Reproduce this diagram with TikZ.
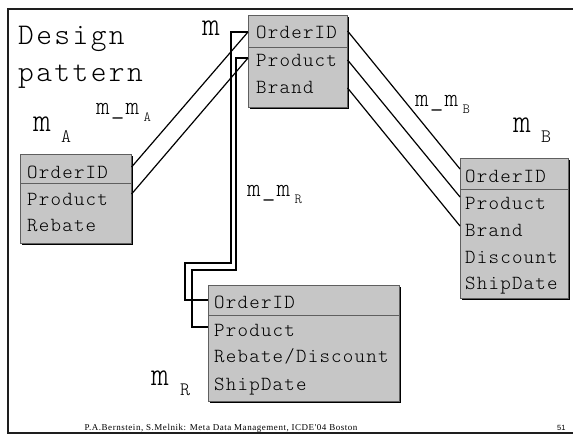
\documentclass[tikz,border=0pt]{standalone}
\usepackage{fontspec}
\setmainfont{Liberation Serif}
\newfontfamily\footfont{Liberation Serif}
\newfontfamily\numfont{Liberation Sans}
\newfontfamily\boxmono{lmmonolt10-regular.otf}
\usetikzlibrary{calc,shadows}

\definecolor{boxgray}{RGB}{198,198,198}
\definecolor{edgegray}{RGB}{95,95,95}
\definecolor{framegray}{RGB}{30,30,30}

% light monospaced lettering with a little extra tracking
\newcommand\monofont[2]{\fontsize{#1}{#1}\boxmono\addfontfeature{LetterSpace=#2}}

\tikzset{
  table/.style={draw=edgegray, line width=0.6pt, fill=boxgray, inner sep=0pt,
    anchor=north west,
    drop shadow={shadow xshift=1.3pt, shadow yshift=-1.3pt, opacity=1, fill=black}},
  divider/.style={draw=edgegray, line width=0.7pt},
  field/.style={anchor=base west, inner sep=0pt, font=\monofont{20}{6}},
  title/.style={anchor=base west, inner sep=0pt, font=\monofont{30}{8}},
  mapname/.style={anchor=base west, inner sep=0pt, font=\monofont{34}{0}},
  mapsub/.style={anchor=base west, inner sep=0pt, font=\monofont{19}{0}},
  linkname/.style={anchor=base west, inner sep=0pt, font=\monofont{26}{4}},
  linksub/.style={anchor=base west, inner sep=0pt, font=\monofont{14}{0}},
  link/.style={draw=black, line width=1.2pt},
  frame/.style={draw=framegray, line width=2pt}
}

\begin{document}
\begin{tikzpicture}[x=1pt, y=-1pt]
\useasboundingbox (0,0) rectangle (573,435);

% slide frame (right side runs off the page)
\draw[frame] (580,9) -- (8,9) -- (8,433) -- (580,433);

% ---- schema tables ----
\node[table, minimum width=99pt, minimum height=92pt] (M) at (248,15) {};
\node[table, minimum width=111pt, minimum height=89pt] (A) at (20,154) {};
\node[table, minimum width=108pt, minimum height=140pt] (B) at (460,158) {};
\node[table, minimum width=191pt, minimum height=116pt] (R) at (208,285) {};

% key field separators
\draw[divider] ($(M.north west)+(0,32)$) -- ($(M.north east)+(0,32)$);
\draw[divider] ($(A.north west)+(0,29)$) -- ($(A.north east)+(0,29)$);
\draw[divider] ($(B.north west)+(0,31)$) -- ($(B.north east)+(0,31)$);
\draw[divider] ($(R.north west)+(0,30)$) -- ($(R.north east)+(0,30)$);

% fields of m
\node[field] (m1) at (256,39) {OrderID};
\node[field] (m2) at (256,67) {Product};
\node[field] (m3) at (256,94) {Brand};

% fields of m_A
\node[field] (a1) at (27,179) {OrderID};
\node[field] (a2) at (27,206) {Product};
\node[field] (a3) at (27,232) {Rebate};

% fields of m_B
\node[field] (b1) at (465,183) {OrderID};
\node[field] (b2) at (465,210) {Product};
\node[field] (b3) at (465,237) {Brand};
\node[field] (b4) at (465,264) {Discount};
\node[field] (b5) at (465,290) {ShipDate};

% fields of m_R
\node[field] (r1) at (214,309) {OrderID};
\node[field] (r2) at (214,337) {Product};
\node[field] (r3) at (214,363) {Rebate/Discount};
\node[field] (r4) at (214,391) {ShipDate};

% ---- headings and mapping names ----
\node[title] (t1) at (18,45) {Design};
\node[title] (t2) at (18,82) {pattern};

\node[mapname] (nm) at (202,36) {m};
\node[mapname] (nA) at (33,132) {m};
\node[mapsub]  (nAs) at (61,143) {A};
\node[mapname] (nB) at (513,133) {m};
\node[mapsub]  (nBs) at (541,143) {B};
\node[mapname] (nR) at (151,386) {m};
\node[mapsub]  (nRs) at (180,396) {R};

\node[linkname] (lA) at (96,115) {m\_m};
\node[linksub]  (lAs) at ($(lA.base east)+(4,7)$) {A};
\node[linkname] (lB) at (415,107) {m\_m};
\node[linksub]  (lBs) at ($(lB.base east)+(4,7)$) {B};
\node[linkname] (lR) at (247,197) {m\_m};
\node[linksub]  (lRs) at ($(lR.base east)+(4,7)$) {R};

% ---- attachment points on the table edges ----
\coordinate (Mw1) at ($(M.north west)+(0,17)$);
\coordinate (Mw2) at ($(M.north west)+(0,43)$);
\coordinate (Me1) at ($(M.north east)+(0,16)$);
\coordinate (Me2) at ($(M.north east)+(0,45)$);
\coordinate (Me3) at ($(M.north east)+(0,73)$);
\coordinate (Ae1) at ($(A.north east)+(0,13)$);
\coordinate (Ae2) at ($(A.north east)+(0,40)$);
\coordinate (Bw1) at ($(B.north west)+(0,11)$);
\coordinate (Bw2) at ($(B.north west)+(0,39)$);
\coordinate (Bw3) at ($(B.north west)+(0,68)$);
\coordinate (Rw1) at ($(R.north west)+(0,15)$);
\coordinate (Rw2) at ($(R.north west)+(0,42)$);

% ---- correspondences ----
% m_m_A
\draw[link] (Mw1) -- (Ae1);
\draw[link] (Mw2) -- (Ae2);
% m_m_B
\draw[link] (Me1) -- (Bw1);
\draw[link] (Me2) -- (Bw2);
\draw[link] (Me3) -- (Bw3);
% m_m_R
\draw[link] (Mw1) -| (231,263) -| (185,300) -- (Rw1);
\draw[link] (Mw2) -| (236,270) -| (192,327) -- (Rw2);

% ---- footer ----
\node[anchor=base, inner sep=0pt, font=\footfont\fontsize{9}{9}\selectfont\addfontfeature{LetterSpace=6}] (foot) at (221,431)
  {P.A.Bernstein, S.Melnik: Meta Data Management, ICDE'04 Boston};
\node[anchor=base west, inner sep=0pt, font=\numfont\fontsize{7.5}{7.5}\selectfont] (page) at (557,431) {51};
\end{tikzpicture}
\end{document}
